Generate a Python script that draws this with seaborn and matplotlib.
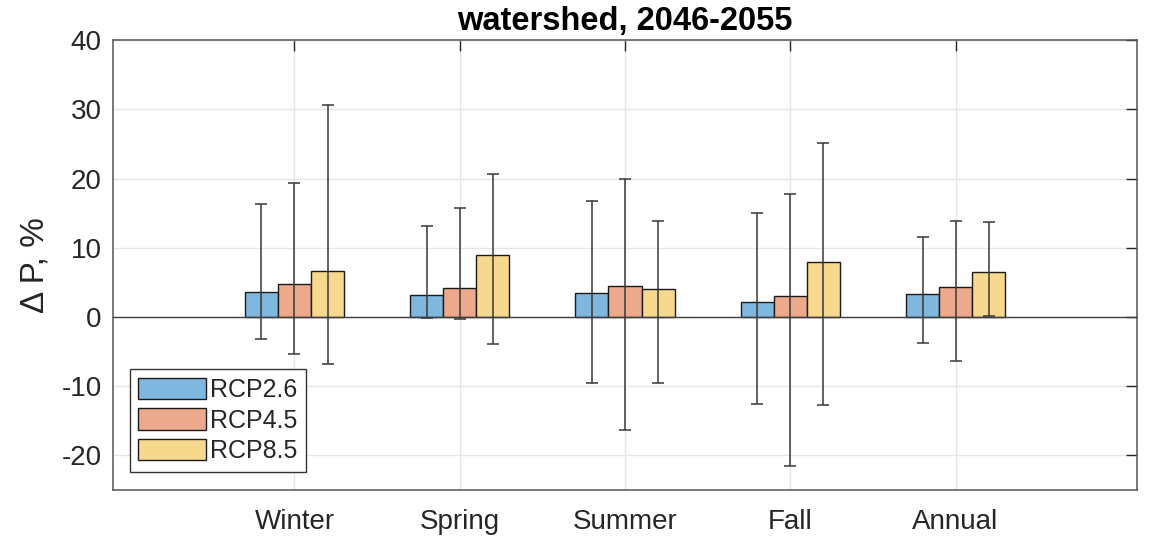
import matplotlib
matplotlib.use('Agg')
import matplotlib.pyplot as plt
import numpy as np
import pandas as pd
import seaborn as sns

seasons = ['Winter', 'Spring', 'Summer', 'Fall', 'Annual']
scenarios = ['RCP2.6', 'RCP4.5', 'RCP8.5']
# mean change in precipitation, %
rcp26 = [3.6, 3.1, 3.4, 2.2, 3.3]
rcp45 = [4.7, 4.2, 4.4, 3.0, 4.3]
rcp85 = [6.7, 8.9, 4.0, 7.9, 6.5]
# ensemble range (top / bottom of the whiskers)
hi26 = [16.3, 13.2, 16.7, 15.0, 11.6]
hi45 = [19.4, 15.7, 20.0, 17.8, 13.9]
hi85 = [30.6, 20.7, 13.9, 25.2, 13.7]
lo26 = [-3.2, -0.1, -9.6, -12.6, -3.8]
lo45 = [-5.3, -0.25, -16.4, -21.6, -6.4]
lo85 = [-6.8, -3.9, -9.6, -12.7, 0.1]

means = [rcp26, rcp45, rcp85]
highs = [hi26, hi45, hi85]
lows = [lo26, lo45, lo85]
colors = ['#7fb7df', '#eda98b', '#f6d98c']

df = pd.DataFrame({
    'season': np.tile(seasons, len(scenarios)),
    'scenario': np.repeat(scenarios, len(seasons)),
    'dP': np.concatenate(means),
})

sns.set_style('white')
plt.rcParams['font.family'] = ['Liberation Sans', 'DejaVu Sans']
plt.rcParams['axes.unicode_minus'] = False

fig = plt.figure(figsize=(11.5, 5.36), dpi=100)
ax = fig.add_axes([0.098, 0.086, 0.891, 0.839])

sns.barplot(data=df, x='season', y='dP', hue='scenario', order=seasons,
            hue_order=scenarios, palette=colors, width=0.6, errorbar=None,
            edgecolor='#1a1a1a', linewidth=1.0, saturation=1, ax=ax, zorder=3)

for cont, hi, lo in zip(ax.containers, highs, lows):
    xs = np.array([p.get_x() + p.get_width() / 2 for p in cont])
    ys = np.array([p.get_height() for p in cont])
    yerr = np.vstack([ys - np.array(lo), np.array(hi) - ys])
    ax.errorbar(xs, ys, yerr=yerr, fmt='none', ecolor='#383838',
                elinewidth=1.1, capsize=4.3, capthick=1.1, zorder=4)

ax.axhline(0, color='#404040', lw=1.0, zorder=3.5)

ax.set_xlim(-1.1, 5.1)
ax.set_ylim(-25, 40)
ax.set_yticks(np.arange(-20, 41, 10))
ax.grid(True, color='#e6e6e6', lw=1.0, zorder=0)
ax.set_axisbelow(True)
ax.tick_params(direction='in', length=8, width=1, colors='#262626',
               labelsize=20, top=True, right=True, pad=8)
ax.tick_params(axis='x', pad=14)
for s in ax.spines.values():
    s.set_color('#555555')
    s.set_linewidth(1.1)

ax.set_xlabel('')
ax.set_ylabel('Δ P, %', fontsize=24, color='#262626', labelpad=8)
ax.set_title('watershed, 2046-2055', fontsize=23.5, fontweight='bold',
             color='black', pad=7)

leg = ax.legend(loc='lower left', bbox_to_anchor=(0.0166, 0.04),
                borderaxespad=0, fontsize=18, fancybox=False, framealpha=1,
                edgecolor='#333333', handlelength=2.7, handleheight=0.95,
                handletextpad=0.15, labelspacing=0.25, borderpad=0.35,
                title=None)
leg.get_frame().set_linewidth(1.0)

fig.savefig('out.png', dpi=100)
